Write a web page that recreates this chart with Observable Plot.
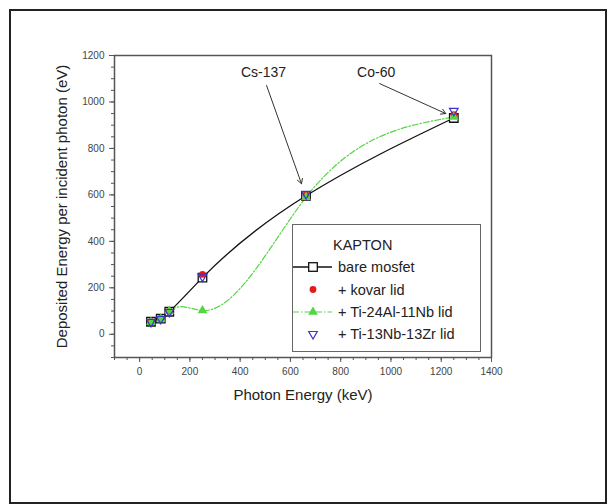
<!DOCTYPE html>
<html>
<head>
<meta charset="utf-8">
<script src="https://cdn.jsdelivr.net/npm/d3@7"></script>
<script src="https://cdn.jsdelivr.net/npm/@observablehq/plot@0.6"></script>
<style>
  html, body { margin: 0; padding: 0; background: #fff; }
  #chart { position: relative; width: 607px; height: 504px; }
  svg { font-family: "Liberation Sans", Arial, sans-serif; }
</style>
</head>
<body>
<div id="chart"></div>
<script>
// ---- data ----
const energies = [45, 84, 118, 250, 662, 1250];           // keV
const bareMosfet = [54, 67, 97, 244, 596, 931];
const kovarLid = [55, 68, 99, 258, 600, 945];
const ti24Al11NbLid = [52, 66, 100, 102, 590, 935];
const ti13Nb13ZrLid = [53, 66, 96, 248, 604, 962];
const seriesNames = ["bare mosfet", "+ kovar lid", "+ Ti-24Al-11Nb lid", "+ Ti-13Nb-13Zr lid"];
const legendTitle = "KAPTON";
const xMajorTicks = [0, 200, 400, 600, 800, 1000, 1200, 1400];
const yMajorTicks = [0, 200, 400, 600, 800, 1000, 1200];
const xMinorTicks = d3.range(-100, 1401, 50);
const yMinorTicks = d3.range(-100, 1201, 50);
const annLabels = ["Cs-137", "Co-60"];
const annTextX = [493, 941];
const annTextY = [1127, 1127];
const annFromX = [505, 955];
const annFromY = [1071, 1079];
const annToX = [644, 1218];
const annToY = [648, 950];

const toRows = (ys) => energies.map((x, i) => ({x, y: ys[i]}));
const bare = toRows(bareMosfet);
const kovar = toRows(kovarLid);
const ti24 = toRows(ti24Al11NbLid);
const ti13 = toRows(ti13Nb13ZrLid);
const ann = annLabels.map((t, i) => ({t, tx: annTextX[i], ty: annTextY[i], x1: annFromX[i], y1: annFromY[i], x2: annToX[i], y2: annToY[i]}));

// natural cubic spline y(x) (function of x, as in the original plotting program)
function splineX(context) {
  let xs, ys;
  return {
    areaStart() {}, areaEnd() {},
    lineStart() { xs = []; ys = []; },
    point(x, y) { xs.push(+x); ys.push(+y); },
    lineEnd() {
      const n = xs.length;
      if (!n) return;
      context.moveTo(xs[0], ys[0]);
      if (n === 1) return;
      if (n === 2) { context.lineTo(xs[1], ys[1]); return; }
      const h = [], d = [];
      for (let i = 0; i < n - 1; i++) { h.push(xs[i + 1] - xs[i]); d.push((ys[i + 1] - ys[i]) / h[i]); }
      const M = new Array(n).fill(0);
      const a = [], b = [], c = [], r = [];
      for (let i = 1; i < n - 1; i++) {
        a.push(h[i - 1]); b.push(2 * (h[i - 1] + h[i])); c.push(h[i]); r.push(6 * (d[i] - d[i - 1]));
      }
      const m = b.length;
      for (let i = 1; i < m; i++) {
        const w = a[i] / b[i - 1];
        b[i] -= w * c[i - 1];
        r[i] -= w * r[i - 1];
      }
      const sol = new Array(m);
      sol[m - 1] = r[m - 1] / b[m - 1];
      for (let i = m - 2; i >= 0; i--) sol[i] = (r[i] - c[i] * sol[i + 1]) / b[i];
      for (let i = 0; i < m; i++) M[i + 1] = sol[i];
      for (let i = 0; i < n - 1; i++) {
        const hi = h[i];
        const s0 = d[i] - hi * (2 * M[i] + M[i + 1]) / 6;
        const s1 = d[i] + hi * (M[i] + 2 * M[i + 1]) / 6;
        context.bezierCurveTo(xs[i] + hi / 3, ys[i] + s0 * hi / 3, xs[i + 1] - hi / 3, ys[i + 1] - s1 * hi / 3, xs[i + 1], ys[i + 1]);
      }
    }
  };
}

const green = "#55d444";
const red = "#e41a1a";
const blue = "#3a34c8";
const axisColor = "#555";
const fmt = d3.format("d");

const plot = Plot.plot({
  width: 607,
  height: 504,
  marginLeft: 114,
  marginRight: 116,
  marginTop: 55,
  marginBottom: 147,
  style: {fontFamily: "Liberation Sans, Arial, sans-serif", background: "transparent", color: "#333"},
  x: {domain: [-100, 1400]},
  y: {domain: [-100, 1200]},
  marks: [
    Plot.frame({stroke: axisColor, strokeWidth: 1.5}),
    Plot.axisX({ticks: xMinorTicks, tickSize: 3, text: null, label: null, stroke: axisColor}),
    Plot.axisY({ticks: yMinorTicks, tickSize: 3, text: null, label: null, stroke: axisColor}),
    Plot.axisX({ticks: xMajorTicks, tickSize: 5, tickPadding: 5, tickFormat: fmt, fontSize: 10, stroke: axisColor, fill: "#444",
      label: "Photon Energy (keV)", labelAnchor: "center", labelArrow: "none", labelOffset: 42}),
    Plot.axisY({ticks: yMajorTicks, tickSize: 5, tickPadding: 5, tickFormat: fmt, fontSize: 10, stroke: axisColor, fill: "#444",
      label: "Deposited Energy per incident photon (eV)", labelAnchor: "center", labelArrow: "none", labelOffset: 58}),
    Plot.line(ti24, {x: "x", y: "y", curve: splineX, stroke: green, strokeWidth: 1.2, strokeDasharray: "6,2,1.5,2"}),
    Plot.line(bare, {x: "x", y: "y", curve: splineX, stroke: "#111", strokeWidth: 1.3}),
    Plot.dot(bare, {x: "x", y: "y", symbol: "square", r: 4.8, fill: "white", stroke: "#111", strokeWidth: 1.3}),
    Plot.dot(kovar, {x: "x", y: "y", symbol: "circle", r: 3.4, fill: red, stroke: "none"}),
    Plot.dot(ti24, {x: "x", y: "y", symbol: "triangle", r: 3.6, fill: green, stroke: "none"}),
    Plot.dot(ti13, {x: "x", y: "y", symbol: "triangle", rotate: 180, r: 3.2, fill: "none", stroke: blue, strokeWidth: 1.2}),
    Plot.arrow(ann, {x1: "x1", y1: "y1", x2: "x2", y2: "y2", stroke: "#333", strokeWidth: 1, headLength: 8, bend: 0}),
    Plot.text(ann, {x: "tx", y: "ty", text: "t", fontSize: 14, fill: "#222"})
  ]
});

const svg = d3.select(plot);
svg.selectAll("g[aria-label='x-axis label'] text, g[aria-label='y-axis label'] text")
  .style("font-size", "15px").attr("fill", "#222");

// outer border
svg.append("rect").attr("x", 10).attr("y", 10).attr("width", 596).attr("height", 493)
  .attr("fill", "none").attr("stroke", "#222").attr("stroke-width", 2);

// legend
const lg = svg.append("g").attr("font-size", 14.5).attr("fill", "#222").attr("text-anchor", "start");
lg.append("rect").attr("x", 292.5).attr("y", 224.5).attr("width", 188).attr("height", 127)
  .attr("fill", "white").attr("stroke", "#666").attr("stroke-width", 1);
lg.append("text").attr("x", 333).attr("y", 245).attr("dy", "0.35em").text(legendTitle).attr("fill", "#222");
const rowsY = [267, 289.5, 312, 334];
const symX = 313, textX = 338;
// bare mosfet
lg.append("line").attr("x1", 293).attr("x2", 332).attr("y1", rowsY[0]).attr("y2", rowsY[0]).attr("stroke", "#111").attr("stroke-width", 1.3);
lg.append("rect").attr("x", symX - 4.3).attr("y", rowsY[0] - 4.3).attr("width", 8.6).attr("height", 8.6)
  .attr("fill", "white").attr("stroke", "#111").attr("stroke-width", 1.3);
// kovar
lg.append("circle").attr("cx", symX).attr("cy", rowsY[1]).attr("r", 3.4).attr("fill", red);
// Ti-24Al-11Nb
lg.append("line").attr("x1", 293).attr("x2", 332).attr("y1", rowsY[2]).attr("y2", rowsY[2]).attr("stroke", green).attr("stroke-width", 1.2).attr("stroke-dasharray", "6,2,1.5,2");
lg.append("path").attr("d", d3.symbol(d3.symbolTriangle, Math.PI * 3.6 * 3.6)()).attr("transform", `translate(${symX},${rowsY[2]})`).attr("fill", green);
// Ti-13Nb-13Zr
lg.append("path").attr("d", d3.symbol(d3.symbolTriangle, Math.PI * 3.2 * 3.2)()).attr("transform", `translate(${symX},${rowsY[3]}) rotate(180)`)
  .attr("fill", "none").attr("stroke", blue).attr("stroke-width", 1.2);
seriesNames.forEach((s, i) => {
  lg.append("text").attr("x", textX).attr("y", rowsY[i]).attr("dy", "0.35em").text(s).attr("fill", "#222");
});

document.getElementById("chart").appendChild(plot);
</script>
</body>
</html>
